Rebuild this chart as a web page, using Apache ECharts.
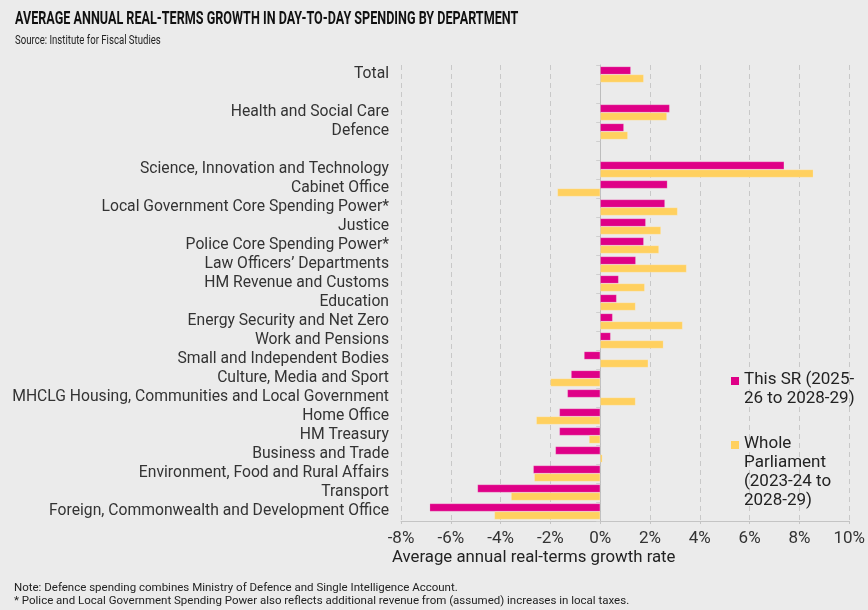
<!DOCTYPE html>
<html>
<head>
<meta charset="utf-8">
<script src="https://cdn.jsdelivr.net/npm/echarts@6/dist/echarts.min.js"></script>
<style>
  html, body { margin: 0; padding: 0; background: #ebebeb; }
  #chart { width: 868px; height: 610px; }
</style>
</head>
<body>
<div id="chart"></div>
<script>
// departments, top to bottom ('' and ' ' are the spacer rows)
const categories = [
    'Total',
    '',
    'Health and Social Care',
    'Defence',
    ' ',
    'Science, Innovation and Technology',
    'Cabinet Office',
    'Local Government Core Spending Power*',
    'Justice',
    'Police Core Spending Power*',
    'Law Officers\u2019 Departments',
    'HM Revenue and Customs',
    'Education',
    'Energy Security and Net Zero',
    'Work and Pensions',
    'Small and Independent Bodies',
    'Culture, Media and Sport',
    'MHCLG Housing, Communities and Local Government',
    'Home Office',
    'HM Treasury',
    'Business and Trade',
    'Environment, Food and Rural Affairs',
    'Transport',
    'Foreign, Commonwealth and Development Office',
];

const thisSR = [1.23, null, 2.79, 0.95, null, 7.39, 2.70, 2.60, 1.83, 1.75, 1.43, 0.74,
    0.66, 0.50, 0.42, -0.65, -1.17, -1.32, -1.64, -1.64, -1.80, -2.69, -4.93, -6.85];
const wholeParliament = [1.75, null, 2.68, 1.11, null, 8.56, -1.72, 3.11, 2.44, 2.36, 3.47, 1.79,
    1.42, 3.31, 2.54, 1.93, -2.00, 1.42, -2.57, -0.45, 0.09, -2.65, -3.58, -4.25];

const seriesNames = ['This SR (2025-26 to 2028-29)', 'Whole Parliament (2023-24 to 2028-29)'];
const legendLabels = {
    'This SR (2025-26 to 2028-29)': 'This SR (2025-\n26 to 2028-29)',
    'Whole Parliament (2023-24 to 2028-29)': 'Whole\nParliament\n(2023-24 to\n2028-29)',
};

const PINK = '#df0087';
const YELLOW = '#ffd05f';
const FONT = 'Roboto, "Noto Sans", sans-serif';

var legendBase = {
    orient: 'vertical',
    left: 731,
    padding: 0,
    itemWidth: 8,
    selectedMode: false,
    itemStyle: { borderWidth: 0 },
    formatter: (name) => legendLabels[name],
    textStyle: {
        fontFamily: FONT,
        fontSize: 17,
        lineHeight: 19,
        color: '#222',
    },
};

var option = {
    backgroundColor: '#ebebeb',
    animation: false,
    title: [{
        text: 'Average annual real-terms growth rate',
        left: 392,
        top: 549,
        padding: 0,
        textStyle: {
            fontFamily: FONT,
            fontSize: 16.8,
            fontWeight: 'normal',
            color: '#222',
        },
    }, {
        text: 'Note: Defence spending combines Ministry of Defence and Single Intelligence Account.\n'
            + '* Police and Local Government Spending Power also reflects additional revenue from (assumed) increases in local taxes.',
        left: 14,
        top: 582,
        padding: 0,
        textStyle: {
            fontFamily: FONT,
            fontSize: 11.5,
            lineHeight: 13,
            fontWeight: 'normal',
            color: '#222',
        },
    }],
    // heading in a narrower cut, squeezed horizontally
    graphic: [{
        type: 'text',
        x: 15,
        y: 11,
        scaleX: 0.72,
        style: {
            text: 'AVERAGE ANNUAL REAL-TERMS GROWTH IN DAY-TO-DAY SPENDING BY DEPARTMENT',
            font: 'bold 17.5px ' + FONT,
            fill: '#111',
        },
    }, {
        type: 'text',
        x: 15,
        y: 35,
        scaleX: 0.8,
        style: {
            text: 'Source: Institute for Fiscal Studies',
            font: '12px ' + FONT,
            fill: '#222',
        },
    }],
    legend: [
        Object.assign({}, legendBase, {
            data: [seriesNames[0]],
            top: 370,
            itemHeight: 38,
            icon: 'path://M0,7h8v8h-8z M0,0h0.01 M0,38h0.01',
        }),
        Object.assign({}, legendBase, {
            data: [seriesNames[1]],
            top: 434,
            itemHeight: 76,
            icon: 'path://M0,7h8v8h-8z M0,0h0.01 M0,76h0.01',
        }),
    ],
    grid: {
        left: 401,
        right: 17,
        top: 65,
        bottom: 89,
    },
    xAxis: {
        type: 'value',
        min: -8,
        max: 10,
        interval: 2,
        axisLine: {
            show: true,
            onZero: false,
            lineStyle: { color: '#c4c4c4', width: 1 },
        },
        axisTick: {
            show: true,
            length: 3,
            lineStyle: { color: '#c4c4c4' },
        },
        axisLabel: {
            formatter: '{value}%',
            fontFamily: FONT,
            fontSize: 17,
            color: '#333',
            margin: 9,
        },
        splitLine: {
            show: true,
            lineStyle: {
                color: '#c8c8c8',
                type: [5, 4],
                width: 1,
            },
        },
    },
    yAxis: [{
        type: 'category',
        inverse: true,
        data: categories,
        axisLine: { show: false, onZero: false },
        axisTick: { show: false },
        axisLabel: {
            interval: 0,
            fontFamily: FONT,
            fontSize: 15.7,
            color: '#333',
            margin: 12,
            padding: [3, 0, 0, 0],
        },
    }, {
        // zero line with the row ticks
        type: 'category',
        inverse: true,
        position: 'left',
        data: categories,
        axisLine: {
            show: true,
            onZero: true,
            lineStyle: { color: '#bdbdbd', width: 1 },
        },
        axisTick: {
            show: true,
            interval: 0,
            length: 4,
            lineStyle: { color: '#cfcfcf' },
        },
        axisLabel: { show: false },
        splitLine: { show: false },
    }],
    series: [{
        name: seriesNames[0],
        type: 'bar',
        data: thisSR,
        barWidth: 8,
        barGap: '0%',
        itemStyle: {
            color: PINK,
            borderColor: 'rgba(255,255,255,0.3)',
            borderWidth: 0.6,
        },
    }, {
        name: seriesNames[1],
        type: 'bar',
        data: wholeParliament,
        barWidth: 8,
        barGap: '0%',
        itemStyle: {
            color: YELLOW,
            borderColor: 'rgba(255,255,255,0.3)',
            borderWidth: 0.6,
        },
    }],
};

var myChart = echarts.init(document.getElementById('chart'));
myChart.setOption(option);
window.addEventListener('resize', myChart.resize);
</script>
</body>
</html>
